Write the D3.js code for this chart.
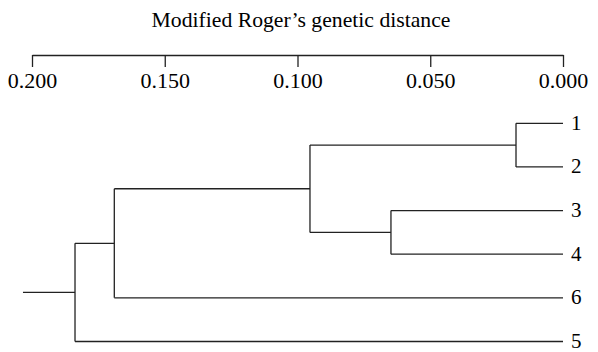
<!DOCTYPE html>
<html>
<head>
<meta charset="utf-8">
<script src="https://cdn.jsdelivr.net/npm/d3@7"></script>
<style>
  body { margin: 0; background: #fff; }
  text { font-family: "Liberation Serif", "Times New Roman", serif; fill: #000; }
</style>
</head>
<body>
<div id="chart"></div>
<script>
// leaves top to bottom, and the merges (children + genetic distance)
const leafNames = ['1', '2', '3', '4', '6', '5'];
const nodeIds = ['a', 'b', 'c', 'd', 'root'];
const nodeChildren = [['1', '2'], ['3', '4'], ['a', 'b'], ['c', '6'], ['d', '5']];
const nodeHeights = [0.0177, 0.0648, 0.0953, 0.1690, 0.1838];
const rootStub = 0.2034;
const tickValues = [0.2, 0.15, 0.1, 0.05, 0];
const title = 'Modified Roger\u2019s genetic distance';

const width = 598, height = 352;
const lineColor = '#222';

const svg = d3.select('#chart').append('svg')
    .attr('width', width)
    .attr('height', height);

const x = d3.scaleLinear().domain([0.2, 0]).range([32, 563]);
const y = d3.scalePoint().domain(leafNames).range([123.3, 341.5]);

// title
svg.append('text')
    .attr('x', 301)
    .attr('y', 26.5)
    .attr('text-anchor', 'middle')
    .style('font-size', '21.7px')
    .text(title);

// axis on top
const axis = d3.axisBottom(x)
    .tickValues(tickValues)
    .tickFormat(d3.format('.3f'))
    .tickSize(12)
    .tickSizeOuter(0)
    .tickPadding(5.5);

const ax = svg.append('g')
    .attr('transform', 'translate(0,55)')
    .call(axis);
ax.select('.domain').attr('stroke', lineColor).attr('stroke-width', 1.3);
ax.selectAll('.tick line').attr('stroke', lineColor).attr('stroke-width', 1.3);
ax.selectAll('.tick text')
    .attr('fill', '#000')
    .style('font-family', '"Liberation Serif", serif')
    .style('font-size', '22px');

// build positions of nodes
const pos = {};
leafNames.forEach(n => { pos[n] = { x: x(0), y: y(n) }; });
nodeIds.forEach((id, i) => {
    const kids = nodeChildren[i];
    const ys = kids.map(k => pos[k].y);
    pos[id] = { x: x(nodeHeights[i]), y: (ys[0] + ys[1]) / 2 };
});

const g = svg.append('g')
    .attr('fill', 'none')
    .attr('stroke', lineColor)
    .attr('stroke-width', 1.3);

nodeIds.forEach((id, i) => {
    const p = pos[id];
    const kids = nodeChildren[i];
    // vertical joining the children
    g.append('line')
        .attr('x1', p.x).attr('x2', p.x)
        .attr('y1', pos[kids[0]].y).attr('y2', pos[kids[1]].y);
    // horizontals to each child
    kids.forEach(k => {
        g.append('line')
            .attr('x1', p.x).attr('x2', pos[k].x)
            .attr('y1', pos[k].y).attr('y2', pos[k].y);
    });
});

// root stub
const r = pos['root'];
g.append('line')
    .attr('x1', x(rootStub)).attr('x2', r.x)
    .attr('y1', r.y).attr('y2', r.y);

// leaf labels
svg.selectAll('.leaf')
    .data(leafNames)
    .enter()
    .append('text')
    .attr('class', 'leaf')
    .attr('x', x(0) + 8)
    .attr('y', d => y(d))
    .attr('dy', '0.31em')
    .style('font-size', '21px')
    .text(d => d);
</script>
</body>
</html>
